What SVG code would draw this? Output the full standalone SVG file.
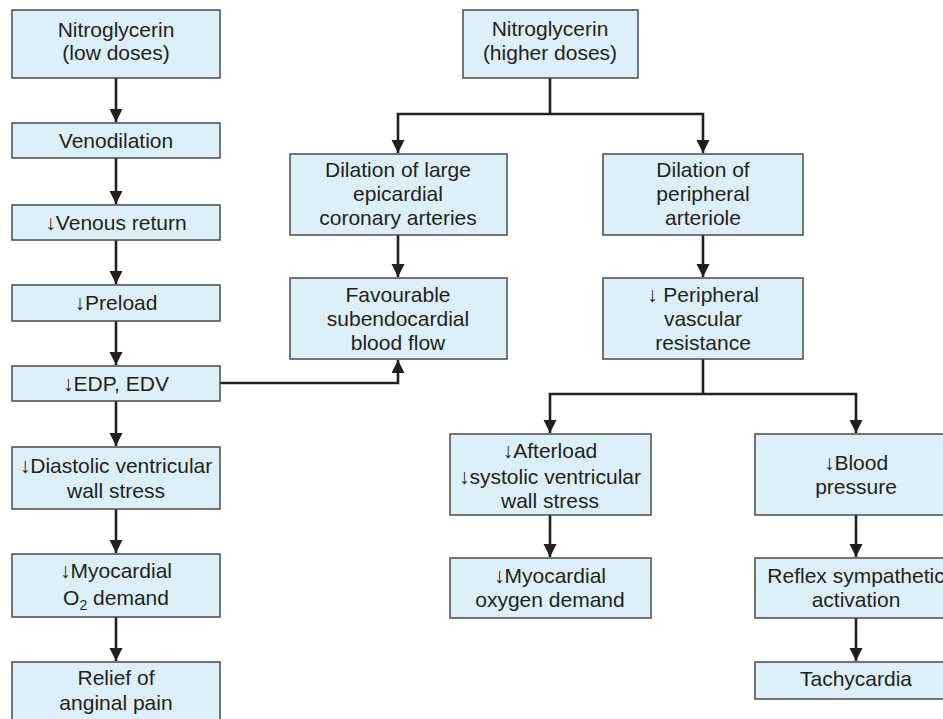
<svg xmlns="http://www.w3.org/2000/svg" width="943" height="719" viewBox="0 0 943 719">
<style>
.box{fill:#ddf0f9;stroke:#4a4a4a;stroke-width:1.5}
.t{font-family:"Liberation Sans",Arial,sans-serif;font-size:21px;fill:#231f20;text-anchor:middle}
.c{fill:none;stroke:#231f20;stroke-width:2.6}
</style>
<defs>
<marker id="ah" markerUnits="userSpaceOnUse" markerWidth="14" markerHeight="14" refX="13" refY="6.5" orient="auto">
<path d="M0,0 L13,6.5 L0,13 z" fill="#231f20"/>
</marker>
</defs>
<rect width="943" height="719" fill="#fff"/>
<g id="connectors">
<path class="c" d="M116,78 V122" marker-end="url(#ah)"/>
<path class="c" d="M116,158 V204" marker-end="url(#ah)"/>
<path class="c" d="M116,240 V284" marker-end="url(#ah)"/>
<path class="c" d="M116,321 V365" marker-end="url(#ah)"/>
<path class="c" d="M116,401 V446" marker-end="url(#ah)"/>
<path class="c" d="M116,509 V553" marker-end="url(#ah)"/>
<path class="c" d="M116,617 V661" marker-end="url(#ah)"/>
<path class="c" d="M550,78 V114"/>
<path class="c" d="M550,114 H398 V153" marker-end="url(#ah)"/>
<path class="c" d="M550,114 H703 V153" marker-end="url(#ah)"/>
<path class="c" d="M398,235 V277" marker-end="url(#ah)"/>
<path class="c" d="M703,235 V277" marker-end="url(#ah)"/>
<path class="c" d="M220,383 H398 V360" marker-end="url(#ah)"/>
<path class="c" d="M703,359 V394"/>
<path class="c" d="M703,394 H550 V433" marker-end="url(#ah)"/>
<path class="c" d="M703,394 H856 V433" marker-end="url(#ah)"/>
<path class="c" d="M550,515 V557" marker-end="url(#ah)"/>
<path class="c" d="M856,515 V557" marker-end="url(#ah)"/>
<path class="c" d="M856,618 V661" marker-end="url(#ah)"/>
</g>
<g id="n1"><rect class="box" x="12" y="10" width="208" height="68"/>
<text class="t" x="116" y="37">Nitroglycerin</text><text class="t" x="116" y="60">(low doses)</text></g>
<g id="n2"><rect class="box" x="12" y="123" width="208" height="35"/>
<text class="t" x="116" y="148">Venodilation</text></g>
<g id="n3"><rect class="box" x="12" y="205" width="208" height="35"/>
<text class="t" x="116" y="230">↓Venous return</text></g>
<g id="n4"><rect class="box" x="12" y="285" width="208" height="36"/>
<text class="t" x="116" y="310">↓Preload</text></g>
<g id="n5"><rect class="box" x="12" y="366" width="208" height="35"/>
<text class="t" x="116" y="391">↓EDP, EDV</text></g>
<g id="n6"><rect class="box" x="12" y="447" width="208" height="62"/>
<text class="t" x="116" y="473">↓Diastolic ventricular</text><text class="t" x="116" y="498">wall stress</text></g>
<g id="n7"><rect class="box" x="12" y="554" width="208" height="63"/>
<text class="t" x="116" y="578">↓Myocardial</text><text class="t" x="116" y="605">O<tspan font-size="14" dy="5">2</tspan><tspan dy="-5"> demand</tspan></text></g>
<g id="n8"><rect class="box" x="12" y="662" width="208" height="62"/>
<text class="t" x="116" y="685">Relief of</text><text class="t" x="116" y="710">anginal pain</text></g>
<g id="n9"><rect class="box" x="463" y="10" width="175" height="68"/>
<text class="t" x="550" y="36">Nitroglycerin</text><text class="t" x="550" y="60">(higher doses)</text></g>
<g id="n10"><rect class="box" x="290" y="154" width="217" height="81"/>
<text class="t" x="398" y="177">Dilation of large</text><text class="t" x="398" y="201">epicardial</text><text class="t" x="398" y="225">coronary arteries</text></g>
<g id="n11"><rect class="box" x="290" y="278" width="217" height="81"/>
<text class="t" x="398" y="302">Favourable</text><text class="t" x="398" y="326">subendocardial</text><text class="t" x="398" y="350">blood flow</text></g>
<g id="n12"><rect class="box" x="603" y="154" width="200" height="81"/>
<text class="t" x="703" y="177">Dilation of</text><text class="t" x="703" y="201">peripheral</text><text class="t" x="703" y="225">arteriole</text></g>
<g id="n13"><rect class="box" x="603" y="278" width="200" height="81"/>
<text class="t" x="703" y="302">↓ Peripheral</text><text class="t" x="703" y="326">vascular</text><text class="t" x="703" y="350">resistance</text></g>
<g id="n14"><rect class="box" x="450" y="434" width="201" height="81"/>
<text class="t" x="550" y="458">↓Afterload</text><text class="t" x="550" y="484">↓systolic ventricular</text><text class="t" x="550" y="508">wall stress</text></g>
<g id="n15"><rect class="box" x="755" y="434" width="202" height="81"/>
<text class="t" x="856" y="470">↓Blood</text><text class="t" x="856" y="494">pressure</text></g>
<g id="n16"><rect class="box" x="450" y="558" width="201" height="60"/>
<text class="t" x="550" y="583">↓Myocardial</text><text class="t" x="550" y="607">oxygen demand</text></g>
<g id="n17"><rect class="box" x="755" y="558" width="202" height="60"/>
<text class="t" x="856" y="583">Reflex sympathetic</text><text class="t" x="856" y="607">activation</text></g>
<g id="n18"><rect class="box" x="755" y="662" width="202" height="37"/>
<text class="t" x="856" y="686">Tachycardia</text></g>
</svg>
